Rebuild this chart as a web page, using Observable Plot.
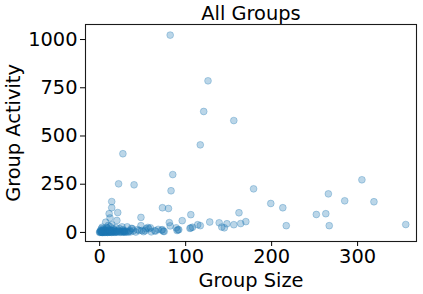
<!DOCTYPE html>
<html>
<head>
<meta charset="utf-8">
<script src="https://cdn.jsdelivr.net/npm/d3@7"></script>
<script src="https://cdn.jsdelivr.net/npm/@observablehq/plot@0.6"></script>
<style>
  html, body { margin: 0; padding: 0; background: #fff; }
  #chart { width: 423px; height: 294px; }
</style>
</head>
<body>
<div id="chart"></div>
<script>
const title = "All Groups";
const xLabel = "Group Size";
const yLabel = "Group Activity";
const xTicks = [0, 100, 200, 300];
const yTicks = [0, 250, 500, 750, 1000];

const groupSize = [
  82, 126, 121, 156, 117, 27, 85, 22, 40, 83,
  179, 199, 213, 14, 14, 11, 21, 12, 20, 48,
  73, 80, 106, 96, 81, 162, 170, 164, 156, 148,
  139, 128, 145, 142, 117, 114, 106, 105, 92, 89,
  82, 73, 64, 59, 57, 48, 46, 37, 35, 28,
  217, 252, 263, 266, 267, 285, 305, 319, 356, 7,
  3, 10, 14, 26, 32, 38, 54, 49, 65, 91,
  108, 56, 0, 1, 2, 3, 4, 5, 6, 7,
  8, 9, 10, 11, 12, 13, 15, 16, 17, 18,
  20, 22, 24, 25, 27, 29, 31, 33, 36, 39,
  42, 44, 51, 53, 60, 68, 75, 2, 5, 8,
  1, 3, 6, 0, 4, 9, 12, 17, 19, 23,
  1, 2, 3, 4, 5, 6, 7, 8, 9, 10,
  11, 12, 13, 14, 15, 16, 18, 19, 21, 23,
  26, 28, 30, 2, 4, 6, 8, 10, 12, 14,
  16, 20, 27, 29, 34, 72, 74, 90
];
const groupActivity = [
  1023, 786, 627, 580, 454, 408, 300, 252, 247, 216,
  226, 150, 128, 160, 128, 97, 103, 75, 62, 78,
  128, 124, 92, 61, 51, 102, 56, 46, 40, 45,
  50, 54, 24, 28, 35, 40, 24, 21, 14, 24,
  34, 14, 9, 24, 19, 35, 10, 21, 10, 5,
  35, 93, 97, 200, 35, 164, 273, 159, 41, 53,
  27, 36, 40, 29, 29, 19, 19, 10, 7, 14,
  27, 26, 0, 2, 5, 1, 8, 3, 0, 12,
  4, 1, 6, 15, 2, 9, 4, 18, 1, 7,
  3, 11, 1, 6, 14, 2, 5, 1, 3, 8,
  2, 14, 4, 9, 3, 16, 5, 20, 15, 25,
  10, 0, 6, 3, 18, 22, 30, 12, 25, 20,
  4, 1, 3, 0, 2, 5, 1, 3, 0, 2,
  4, 1, 3, 0, 2, 6, 1, 3, 2, 4,
  1, 3, 2, 9, 11, 8, 10, 12, 9, 7,
  10, 8, 7, 9, 6, 12, 6, 10
];

const data = groupSize.map((s, i) => ({size: s, activity: groupActivity[i]}));
const color = "#1f77b4";

const chart = Plot.plot({
  width: 423,
  height: 294,
  marginLeft: 85,
  marginRight: 7,
  marginTop: 24,
  marginBottom: 53,
  style: {fontFamily: "DejaVu Sans", fontSize: "19px", color: "#000", background: "#fff"},
  x: {domain: [-16.5, 368.5]},
  y: {domain: [-47, 1078]},
  marks: [
    Plot.dot(data, {x: "size", y: "activity", r: 3.4, fill: color, fillOpacity: 0.3, stroke: color, strokeOpacity: 0.3, strokeWidth: 1}),
    Plot.frame({stroke: "#1a1a1a", strokeWidth: 1.1}),
    Plot.axisX({ticks: xTicks, tickSize: 5, tickPadding: 3, fontSize: 19.4, label: null, tickFormat: d => String(d)}),
    Plot.axisY({ticks: yTicks, tickSize: 5, tickPadding: 3, fontSize: 19.4, label: null, tickFormat: d => String(d)}),
    Plot.text([xLabel], {frameAnchor: "bottom", dy: 39, fontSize: 19.4, lineAnchor: "middle", textAnchor: "middle", fill: "#000"}),
    Plot.text([yLabel], {frameAnchor: "left", dx: -72, rotate: -90, fontSize: 19.4, lineAnchor: "middle", textAnchor: "middle", fill: "#000"}),
    Plot.text([title], {frameAnchor: "top", dy: -11, fontSize: 19.4, lineAnchor: "middle", textAnchor: "middle", fill: "#000"})
  ]
});
document.getElementById("chart").appendChild(chart);
</script>
</body>
</html>
